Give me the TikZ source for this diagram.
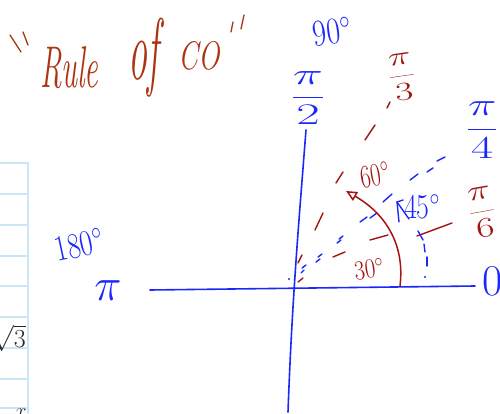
\RequirePackage{fix-cm}
\documentclass[tikz,border=0pt]{standalone}
\usetikzlibrary{arrows.meta}
\definecolor{penblue}{RGB}{28,40,250}
\definecolor{penred}{RGB}{160,22,18}
\definecolor{penbrown}{RGB}{172,52,18}
\definecolor{gridblue}{RGB}{200,232,248}
\definecolor{inkgray}{RGB}{40,40,40}
\tikzset{
  axisline/.style={penblue, line width=1.6pt, line cap=round},
  bluedash/.style={penblue, line width=1.4pt, line cap=round},
  reddash/.style={penred, line width=1.4pt, line cap=round},
  gridline/.style={gridblue, line width=2.6pt},
  bluelabel/.style={penblue, inner sep=0pt},
  redlabel/.style={penred, inner sep=0pt},
  titletext/.style={penbrown, inner sep=0pt, font=\itshape},
}
\newcommand{\fs}[1]{\fontsize{#1}{#1}\selectfont}
\newcommand{\hw}[3]{\scalebox{#1}[#2]{#3}}
\begin{document}
\begin{tikzpicture}[x=1pt,y=-1pt]
\clip (0,0) rectangle (500,414);
\fill[white] (0,0) rectangle (500,414);

% grid on the left
\draw[gridline] (28,162) -- (28,414);
\foreach \yy in {163,194,225,256,286,317,348,379,408}
  \draw[gridline] (-2,\yy) -- (29.3,\yy);
\node[inkgray, anchor=east, inner sep=0pt, font=\fs{26}] (sq) at (26,338) {$\sqrt{3}$};
\node[inkgray, anchor=north, inner sep=0pt, font=\fs{20}] (xx) at (21,409) {$x$};

% title
\draw[penbrown, line width=1.3pt, line cap=round] (10,35) -- (21,52);
\draw[penbrown, line width=1.3pt, line cap=round] (23,32) -- (28,45);
\draw[penbrown, line width=1.3pt, line cap=round] (233,22) -- (231,32);
\draw[penbrown, line width=1.3pt, line cap=round] (244,15) -- (241,29);
\node[titletext, anchor=base west] (rule) at (40,88) {\fs{38}\hw{0.8}{1.55}{Rule}};
\node[titletext, anchor=base west] (of) at (128,80) {\fs{38}\hw{1.0}{2.3}{of}};
\node[titletext, anchor=base west] (co) at (178,70) {\fs{38}\hw{0.75}{1.05}{CO}};

% axes
\draw[axisline] (150,290) -- (475,286);
\draw[axisline] (306,130) .. controls (299,220) and (292,300) .. (288,412);
\fill[penblue] (289,279) circle (1.2pt);

% axis labels
\node[bluelabel, font=\fs{30}, rotate=8] (l90) at (332,32) {\hw{1}{1.25}{90$^{\circ}$}};
\node[bluelabel, font=\fs{30}] (lpi2) at (308,98) {\hw{1.7}{1}{$\displaystyle\frac{\pi}{2}$}};
\node[bluelabel, font=\fs{28}, rotate=12] (l180) at (79,245) {\hw{1}{1.3}{180$^{\circ}$}};
\node[bluelabel, font=\fs{46}] (lpi) at (108,291) {$\pi$};
\node[bluelabel, font=\fs{44}, anchor=west] (l0) at (482,281) {0$^{\circ}$};
\node[redlabel, font=\fs{26}, rotate=8] (lpi3) at (402,77) {\hw{1.5}{1}{$\displaystyle\frac{\pi}{3}$}};
\node[bluelabel, font=\fs{32}, anchor=west] (lpi4) at (466,130) {\hw{1.5}{1}{$\displaystyle\frac{\pi}{4}$}};
\node[redlabel, font=\fs{28}, anchor=west, rotate=10] (lpi6) at (469,215) {\hw{1.4}{1}{$\displaystyle\frac{\pi}{6}$}};

% 60 degree red dashed line
\draw[reddash] (298,263) -- (302,255);
\draw[reddash] (315,230) -- (323,213);
\draw[reddash] (336,183) -- (343,172);
\draw[reddash] (365,140) -- (375,125);
\draw[reddash] (387,108) -- (390,102);

% 45 degree blue dashed line
\draw[bluedash] (301,273) -- (304,270);
\draw[bluedash] (302,268) -- (306,265);
\draw[bluedash] (316,262) -- (320,259);
\draw[bluedash] (318,257) -- (322,254);
\draw[bluedash] (337,243) -- (341,240);
\draw[bluedash] (339,239) -- (343,236);
\draw[bluedash] (360,222) -- (367,217);
\draw[bluedash] (370,218) -- (377,213);
\draw[bluedash] (383,202) -- (392,194);
\draw[bluedash] (410,180) -- (418,174);
\draw[bluedash] (427,172) -- (433,168);
\draw[bluedash] (437,161) -- (445,157);

% 30 degree red dashed line
\draw[reddash] (298,282) -- (303,278);
\draw[reddash] (333,257) -- (345,252);
\draw[reddash] (370,240) -- (388,235);
\draw[reddash] (417,236) -- (452,223);

% blue projection from 45 degree
\draw[bluedash] (418,231) -- (423,240);
\draw[bluedash] (424,244) -- (425,252);
\draw[bluedash] (427,257) -- (427,266);
\fill[penblue] (425,277) circle (1.1pt);

% red arc with arrow
\draw[penred, line width=1.5pt, -{Triangle[open, length=11pt, width=10pt]}]
  (400,286) .. controls (405,245) and (386,214) .. (346,191);

% angle labels
\node[redlabel, font=\fs{25}, rotate=10] (l60) at (375,175) {\hw{0.9}{1.3}{60$^{\circ}$}};
\node[bluelabel, font=\fs{28}] (l45) at (422,207) {\hw{1}{1.25}{45$^{\circ}$}};
\draw[bluedash] (399,222) -- (397,202) -- (403,200);
\draw[bluedash] (397,202) -- (409,219);
\node[redlabel, font=\fs{23}, rotate=8] (l30) at (369,269) {\hw{1}{1.2}{30$^{\circ}$}};
\end{tikzpicture}
\end{document}
